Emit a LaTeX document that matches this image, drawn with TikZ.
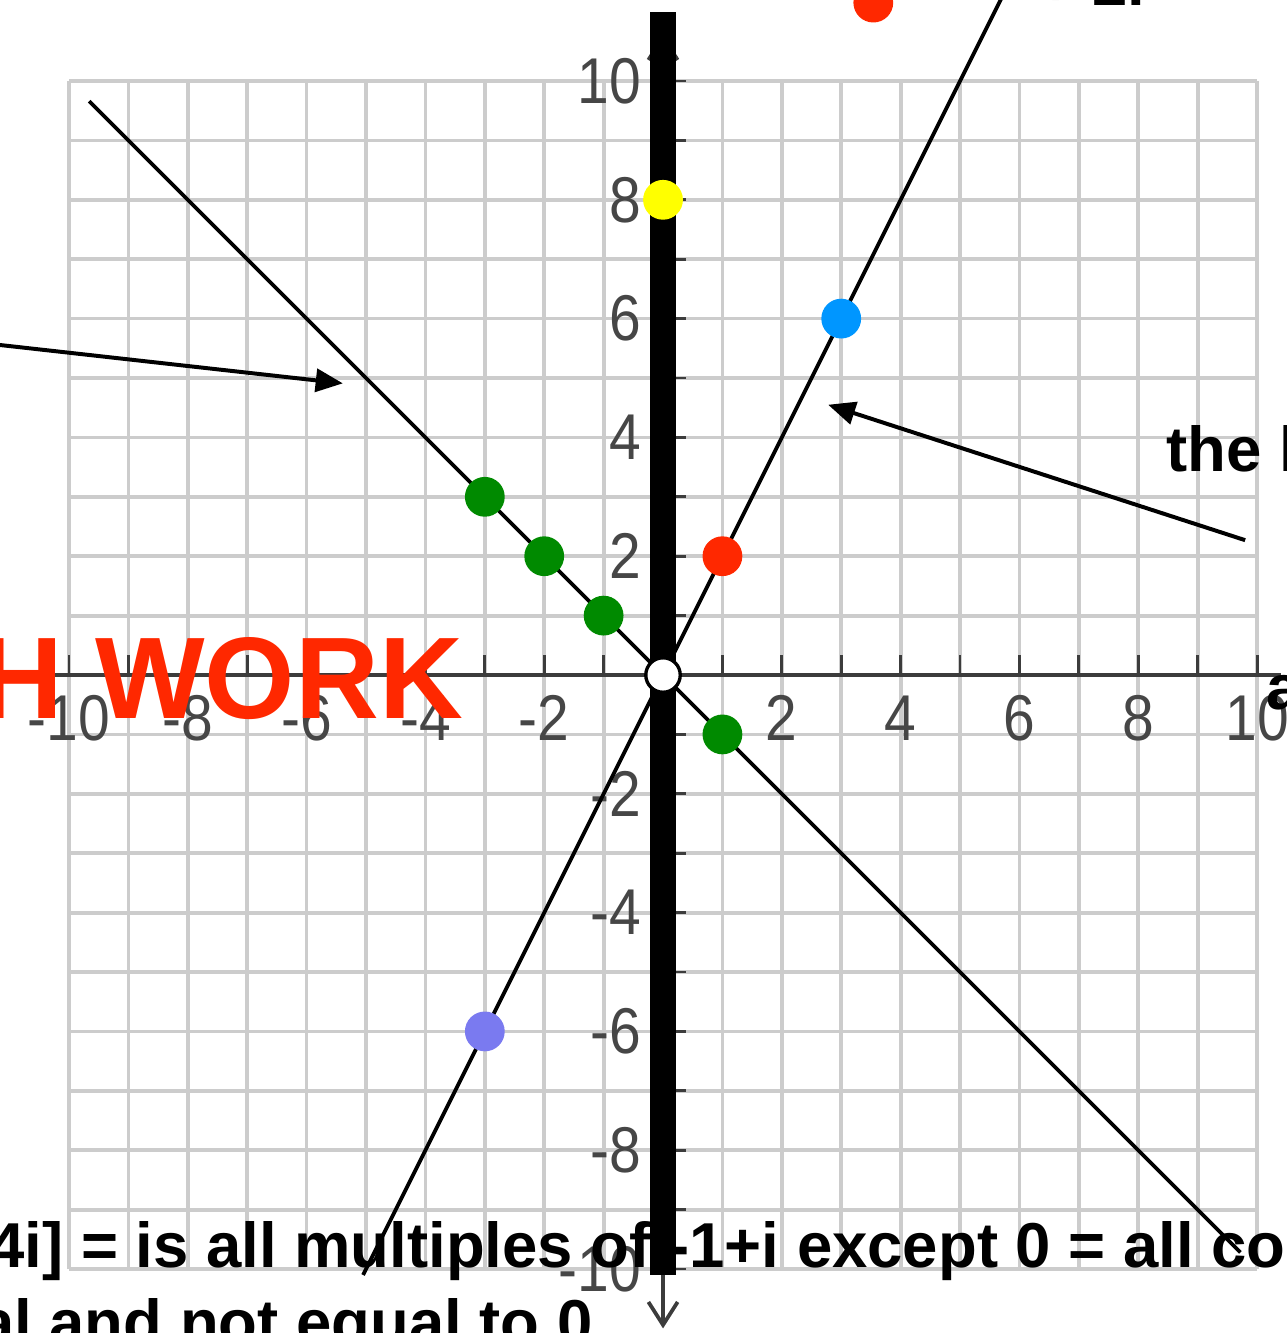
\documentclass[tikz,border=0pt]{standalone}
\usepackage{fontspec}
\setmainfont{Liberation Sans}
\newfontfamily\tickfont[FakeStretch=0.88]{Liberation Sans}
\usetikzlibrary{arrows.meta}
\definecolor{gridgray}{RGB}{204,204,204}
\definecolor{axisgray}{RGB}{60,60,60}
\definecolor{ticktext}{RGB}{70,70,70}
\definecolor{dotgreen}{RGB}{0,138,0}
\definecolor{dotblue}{RGB}{0,150,255}
\definecolor{dotred}{RGB}{255,40,0}
\definecolor{dotviolet}{RGB}{122,122,240}
\definecolor{dotyellow}{RGB}{255,255,0}
\begin{document}
\begin{tikzpicture}[
        gridline/.style={draw=gridgray, line width=1.8pt},
        axisline/.style={draw=axisgray, line width=2.2pt},
        tickline/.style={draw=axisgray, line width=1.4pt},
        ray/.style={draw=black, line width=1.8pt},
        pointer/.style={draw=black, line width=1.9pt, -{Triangle[length=13pt,width=11pt]}},
        dot/.style={circle, fill=#1, inner sep=0pt, minimum size=6.7mm},
        ticklbl/.style={text=ticktext, font=\tickfont\fontsize{31}{31}\selectfont, inner sep=0pt},
        caption/.style={font=\bfseries\fontsize{30.4}{36}\selectfont, inner sep=0pt}
    ]
    \useasboundingbox (-11.162,-11.077) rectangle (10.488,11.364);
    \clip (-11.162,-11.077) rectangle (10.488,11.364);
    \foreach \i in {-10,...,10} {
        \draw[gridline] (\i,-10) -- (\i,10);
        \draw[gridline] (-10,\i) -- (10,\i);
    }
    \draw[axisline] (-11.3,0) -- (10.4,0);
    \foreach \i in {-10,...,10} {
        \draw[tickline] (\i,0) -- (\i,0.33);
        \draw[tickline] (0,\i) -- (0.38,\i);
    }
    \draw[tickline, line width=1.8pt, {Straight Barb[length=11pt,width=14pt]}-{Straight Barb[length=11pt,width=14pt]}] (0,10.8) -- (0,-11.0);
    \foreach \i [count=\k] in {-10,-8,-6,-4,-2,2,4,6,8,10} {
        \node[ticklbl, anchor=north] (xl\k) at (\i,-0.34) {\i};
        \node[ticklbl, anchor=east] (yl\k) at (-0.36,\i) {\i};
    }
    \fill (-0.22,-10.1) rectangle (0.22,11.16);
    \coordinate (a1) at (-9.66,9.66);
    \coordinate (a2) at (9.72,-9.72);
    \coordinate (b1) at (-5.05,-10.1);
    \coordinate (b2) at (5.7,11.4);
    \draw[ray] (a1) -- (a2);
    \draw[ray] (b1) -- (b2);
    \coordinate (p1) at (-11.2,5.56);
    \coordinate (p2) at (-5.39,4.91);
    \coordinate (q1) at (9.8,2.27);
    \coordinate (q2) at (2.78,4.55);
    \draw[pointer] (p1) -- (p2);
    \draw[pointer] (q1) -- (q2);
    \node[dot=dotgreen] (g1) at (-3,3) {};
    \node[dot=dotgreen] (g2) at (-2,2) {};
    \node[dot=dotgreen] (g3) at (-1,1) {};
    \node[dot=dotgreen] (g4) at (1,-1) {};
    \node[dot=dotyellow] (y8) at (0,8) {};
    \node[dot=dotblue] (b36) at (3,6) {};
    \node[dot=dotred] (r12) at (1,2) {};
    \node[dot=dotred] (rtop) at (3.54,11.32) {};
    \node[dot=dotviolet] (v36) at (-3,-6) {};
    \node[circle, fill=white, draw=black, line width=1.6pt, minimum size=5.8mm, inner sep=0pt] (o) at (0,0) {};
    \node[caption, text=dotred, font=\bfseries\fontsize{55.6}{60}\selectfont, anchor=base west] (work) at (-11.515,-0.724) {H WORK};
    \node[caption, anchor=base west] (the) at (8.468,3.418) {the l};
    \node[caption, anchor=base west] (axa) at (10.15,-0.572) {a};
    \node[caption, anchor=base west] (topi) at (6.296,11.27) {+ 2i};
    \node[caption, anchor=base west] (capA) at (-11.347,-9.966) {4i] = is all multiples of -1+i except 0 = all co};
    \node[caption, anchor=base east] (capB) at (-1.178,-11.263) {al and not equal to 0};
\end{tikzpicture}
\end{document}
